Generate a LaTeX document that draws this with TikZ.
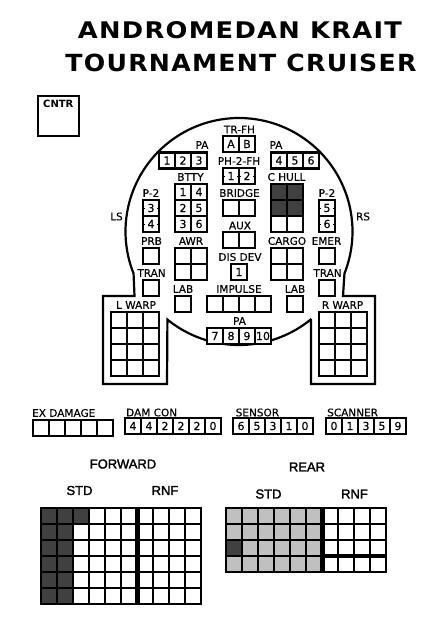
\documentclass[tikz,border=0pt]{standalone}
\usepackage{graphicx}
\usepackage{fontspec}
\newfontfamily\panelfont[RawFeature={embolden=0.25}]{DejaVu Sans}
\newfontfamily\cntrfont{DejaVu Sans Bold}
\newfontfamily\titlefont[LetterSpace=5]{DejaVu Sans Bold}
\newfontfamily\headfont[RawFeature={embolden=2}]{Liberation Sans}
\definecolor{hitdark}{HTML}{404040}
\definecolor{armgray}{HTML}{C0C0C0}
\tikzset{
    cell/.style={draw, line width=2.3pt, fill=white, minimum size=16pt, inner sep=0pt, outer sep=0pt, anchor=north west, font=\panelfont\fontsize{11}{12}\selectfont},
    hit/.style={cell, fill=hitdark},
    arm/.style={cell, fill=armgray},
    lbl/.style={inner sep=0pt, font=\panelfont\fontsize{10.5}{12}\selectfont},
    head/.style={inner sep=0pt, font=\headfont\fontsize{13}{15}\selectfont},
    hull/.style={line width=2.2pt, line join=miter},
    bar/.style={line width=5pt}
}
\begin{document}
\begin{tikzpicture}[x=1pt, y=-1pt]
                \useasboundingbox (0,0) rectangle (439,637);
                % Title and counter box:
                \node[inner sep=0pt] (title1) at (240,30.5){\resizebox{324pt}{17pt}{\titlefont ANDROMEDAN KRAIT}};
                \node[inner sep=0pt] (title2) at (241,63){\resizebox{351pt}{17.5pt}{\titlefont TOURNAMENT CRUISER}};
                \node[draw, line width=2.3pt, minimum width=41pt, minimum height=40pt, outer sep=0pt, anchor=north west] (cntrbox) at (38,96){};
                \node[inner sep=0pt, anchor=west, font=\cntrfont\fontsize{10}{12}\selectfont] (cntr) at (43,103.5){CNTR};
                % Hull outline:
                \draw[hull] plot[domain=158.3:381.7, samples=120] ({239+113.5*cos(\x)},{231.5+113.5*sin(\x)})
                    -- (343,296) -- (375,296) -- (375,384) -- (311,384) -- (311,320)
                    -- plot[domain=50.9:129.1, samples=60] ({239+113.5*cos(\x)},{231.5+113.5*sin(\x)})
                    -- (167,384) -- (103,384) -- (103,296) -- (134.5,296) -- cycle;
                % Hull boxes:
                \foreach \n/\x in {A/223,B/239} \node[cell] (tr\n) at (\x,136){\n};
                \foreach \n/\x in {1/159,2/175,3/191} \node[cell] (pa\n) at (\x,152.5){\n};
                \foreach \n/\x in {4/271,5/287,6/303} \node[cell] (pa\n) at (\x,152.5){\n};
                \foreach \n/\x in {7/207,8/223,9/239,10/255} \node[cell] (pa\n) at (\x,328){\n};
                \foreach \n/\x in {1/223,2/239} \node[cell] (ph\n) at (\x,168){\n};
                \foreach \n/\x/\y in {1/175/184,4/191/184,2/175/200,5/191/200,3/175/216,6/191/216} \node[cell] (btty\n) at (\x,\y){\n};
                \foreach \n/\x/\y in {3/143/200,4/143/216,5/319/200,6/319/216} \node[cell] (ptwo\n) at (\x,\y){\n};
                \foreach \c in {ph1,ph2,ptwo3,ptwo4,ptwo5,ptwo6} {
                    \draw[line width=1pt] (\c.west) -- ++(2.2,0);
                    \draw[line width=1pt] (\c.east) -- ++(-2.2,0);
                }
                \foreach \c in {0,1} {
                    \node[cell] (bridge\c) at ({223+16*\c},200){};
                    \node[cell] (aux\c) at ({223+16*\c},232){};
                    \node[hit] (chull\c a) at ({271+16*\c},184){};
                    \node[hit] (chull\c b) at ({271+16*\c},200){};
                    \node[cell] (chull\c c) at ({271+16*\c},216){};
                    \foreach \r in {0,1} {
                        \node[cell] (awr\c\r) at ({175+16*\c},{248+16*\r}){};
                        \node[cell] (cargo\c\r) at ({271+16*\c},{248+16*\r}){};
                    }
                }
                \node[cell] (prb) at (143,248){};
                \node[cell] (emer) at (319,248){};
                \node[cell] (tranl) at (143,280){};
                \node[cell] (tranr) at (319,280){};
                \node[cell] (labl) at (175,296){};
                \node[cell] (labr) at (287,296){};
                \node[cell] (disdev) at (231,264){1};
                \foreach \c in {0,...,3} \node[cell] (imp\c) at ({207+16*\c},296){};
                \foreach \c in {0,1,2} \foreach \r in {0,...,3} {
                    \node[cell] (lw\c\r) at ({111+16*\c},{312+16*\r}){};
                    \node[cell] (rw\c\r) at ({319+16*\c},{312+16*\r}){};
                }
                % Hull labels:
                \node[lbl] (ltrfh) at (239.5,129.5){TR-FH};
                \node[lbl] (lpa1) at (202,145){PA};
                \node[lbl] (lpa2) at (276,145){PA};
                \node[lbl] (lphfh) at (239,161){PH-2-FH};
                \node[lbl] (lbtty) at (190.5,177){BTTY};
                \node[lbl] (lchull) at (286.5,177){C HULL};
                \node[lbl] (lptwo1) at (151,193){P-2};
                \node[lbl] (lptwo2) at (327,193){P-2};
                \node[lbl] (lbridge) at (239.5,193){BRIDGE};
                \node[lbl] (lls) at (116.5,216.5){LS};
                \node[lbl] (lrs) at (363,216.5){RS};
                \node[lbl] (laux) at (240,225.5){AUX};
                \node[lbl] (lprb) at (151.5,241){PRB};
                \node[lbl] (lawr) at (191,241){AWR};
                \node[lbl] (lcargo) at (287,241){CARGO};
                \node[lbl] (lemer) at (326.5,241){EMER};
                \node[lbl] (ldisdev) at (240,257){DIS DEV};
                \node[lbl] (ltranl) at (151.5,273){TRAN};
                \node[lbl] (ltranr) at (327.5,273){TRAN};
                \node[lbl] (llabl) at (183,289){LAB};
                \node[lbl] (llabr) at (295,289){LAB};
                \node[lbl] (limp) at (239,289){IMPULSE};
                \node[lbl] (lpa3) at (239.5,321){PA};
                \node[lbl] (llw) at (136,305){L WARP};
                \node[lbl] (lrw) at (342.5,305){R WARP};
                % Damage and sensor tracks:
                \node[lbl, anchor=west] (lex) at (32,413){EX DAMAGE};
                \foreach \c in {0,...,4} \node[cell] (ex\c) at ({33+16*\c},420){};
                \node[lbl, anchor=west] (ldam) at (126,412.5){DAM CON};
                \foreach \n [count=\c from 0] in {4,4,2,2,2,0} \node[cell] (dam\c) at ({125+16*\c},418){\n};
                \node[lbl, anchor=west] (lsen) at (235.5,412.5){SENSOR};
                \foreach \n [count=\c from 0] in {6,5,3,1,0} \node[cell] (sen\c) at ({233+16*\c},418){\n};
                \node[lbl, anchor=west] (lscn) at (327,412.5){SCANNER};
                \foreach \n [count=\c from 0] in {0,1,3,5,9} \node[cell] (scn\c) at ({326+16*\c},418){\n};
                % Forward shields:
                \node[head] (lfwd) at (123,464){FORWARD};
                \node[head] (lfstd) at (79.5,490.5){STD};
                \node[head] (lfrnf) at (165,490.5){RNF};
                \foreach \c in {0,...,9} \foreach \r in {0,...,5} \node[cell] (f\c\r) at ({41+16*\c},{508+16*\r}){};
                \foreach \c/\r in {0/0,1/0,2/0,0/1,1/1,0/2,1/2,0/3,1/3,0/4,1/4,0/5,1/5} \node[hit] (f\c\r) at ({41+16*\c},{508+16*\r}){};
                \draw[bar] (f60.north west) -- (f65.south west);
                % Rear shields:
                \node[head] (lrear) at (307,467){REAR};
                \node[head] (lrstd) at (268.5,494){STD};
                \node[head] (lrrnf) at (354.5,494){RNF};
                \foreach \c in {0,...,9} \foreach \r in {0,...,3} \node[cell] (r\c\r) at ({226+16*\c},{508+16*\r}){};
                \foreach \c in {0,...,5} \foreach \r in {0,...,3} \node[arm] (r\c\r) at ({226+16*\c},{508+16*\r}){};
                \node[hit] (r02) at (226,540){};
                \draw[bar] (r60.north west) -- (r63.south west);
                \draw[line width=3.2pt] (r63.north west) -- (r93.north east);
            \end{tikzpicture}
\end{document}
